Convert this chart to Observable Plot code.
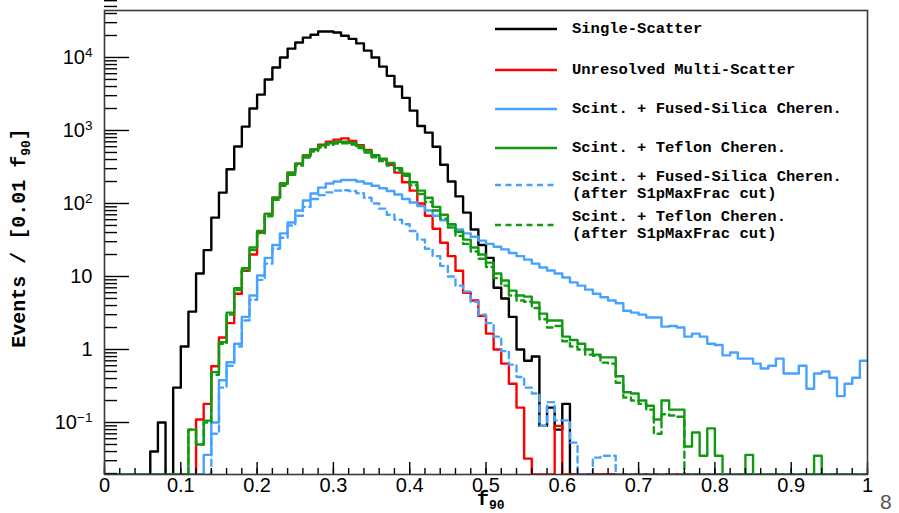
<!DOCTYPE html>
<html><head><meta charset="utf-8">
<script src="https://cdn.jsdelivr.net/npm/d3@7"></script>
<script src="https://cdn.jsdelivr.net/npm/@observablehq/plot@0.6"></script>
<style>body{margin:0;background:#fff}#chart{position:relative;width:899px;height:513px;overflow:hidden}</style>
</head><body><div id="chart"></div>
<script>
// histogram bins: 100 bins of width 0.01 on f90 in [0,1]
const binWidth = 0.01;

const singleScatter = [
  0,0,0,0,0,0,0.04,0.1,0,0.3,
  1.1,3.3,11,23,64,141,294,603,1130,2000,
  3100,5000,7300,10000,13200,16000,18700,20500,22700,22700,
  22000,19800,18000,15600,12400,10000,7500,5600,4000,2800,
  1870,1150,935,600,340,200,125,75,44,27,
  18,7,5,2.8,1.0,0.7,0.8,0.09,0.16,0.08,
  0.18,0,0,0,0,0,0,0,0,0,
  0,0,0,0,0,0,0,0,0,0,
  0,0,0,0,0,0,0,0,0,0,
  0,0,0,0,0,0,0,0,0,0
];
const multiScatter = [
  0,0,0,0,0,0,0,0,0,0,
  0,0,0.11,0.18,0.59,1.46,2.3,5.8,12,20,
  40,72,120,188,265,350,455,550,640,700,
  750,780,720,630,540,460,400,340,265,195,
  150,100,68,45,29,19,12,6,4.7,2.9,
  1.65,1.0,0.64,0.34,0.16,0.032,0,0,0,0.09,
  0,0,0,0,0,0,0,0,0,0,
  0,0,0,0,0,0,0,0,0,0,
  0,0,0,0,0,0,0,0,0,0,
  0,0,0,0,0,0,0,0,0,0
];
const fusedSilica = [
  0,0,0,0,0,0,0,0,0,0,
  0,0,0,0.036,0.10,0.38,0.67,1.2,2.8,5.5,
  10.3,18,27,39,55,80,110,137,165,188,
  200,210,210,200,188,175,162,148,133,115,
  103,92,80,68,59,51,44,39,35,31,
  28,25.5,23.5,21,19,17,15,13.3,12.1,11,
  9.7,8.3,7.5,6.6,5.8,5.2,4.7,4.3,3.4,3.2,
  3.0,2.75,2.75,2.06,2.1,2.0,1.5,1.65,1.5,1.2,
  1.15,0.83,0.91,0.75,0.75,0.64,0.55,0.6,0.75,0.47,
  0.47,0.6,0.29,0.47,0.5,0.41,0.23,0.34,0.41,0.7
];
const teflon = [
  0,0,0,0,0,0,0,0,0,0,
  0,0.08,0.05,0.106,0.49,1.26,3.2,6.9,13,25,
  42,72,120,188,265,350,455,550,620,670,
  700,700,680,610,530,460,410,360,305,255,
  195,150,120,90,70,52,41,32,25,20,
  15.5,11,8.8,6.4,5.5,5.3,4.4,3.1,2.5,2.5,
  1.5,1.35,1.2,1.0,0.85,0.78,0.78,0.43,0.26,0.25,
  0.2,0.17,0.11,0.2,0.15,0.15,0.047,0.073,0.035,0.083,
  0.035,0,0,0,0.036,0,0,0,0,0,
  0,0,0,0.035,0,0,0,0,0,0
];
const fusedSilicaCut = [
  0,0,0,0,0,0,0,0,0,0,
  0,0,0,0,0.07,0.3,0.6,1.1,2.5,4.8,
  9,15,24,34,50,68,90,115,130,142,
  150,152,148,138,120,100,85,70,60,52,
  42,32,24,19,14,10,7.5,6.2,4.5,3.0,
  2.3,1.5,0.95,0.62,0.42,0.3,0.25,0.09,0.19,0.107,
  0.107,0.053,0,0,0.033,0.035,0.035,0,0,0,
  0,0,0,0,0,0,0,0,0,0,
  0,0,0,0,0,0,0,0,0,0,
  0,0,0,0,0,0,0,0,0,0
];
const teflonCut = [
  0,0,0,0,0,0,0,0,0,0,
  0,0.08,0.05,0.1,0.45,1.2,3.0,6.5,12,23,
  39,67,112,175,248,330,425,515,585,635,
  660,665,640,575,500,430,380,330,285,240,
  178,135,105,80,62,47,36,28,22,17.5,
  13.5,9.5,7.5,5.5,4.7,4.5,3.7,2.6,2.0,2.1,
  1.3,1.1,1.0,0.85,0.82,0.66,0.64,0.35,0.22,0.2,
  0.18,0.15,0.07,0.13,0.125,0.12,0,0,0,0,
  0,0,0,0,0,0,0,0,0,0,
  0,0,0,0,0,0,0,0,0,0
];

const seriesNames = [
  ["Single-Scatter"],
  ["Unresolved Multi-Scatter"],
  ["Scint. + Fused-Silica Cheren."],
  ["Scint. + Teflon Cheren."],
  ["Scint. + Fused-Silica Cheren.", "(after S1pMaxFrac cut)"],
  ["Scint. + Teflon Cheren.", "(after S1pMaxFrac cut)"]
];
const seriesValues = [singleScatter, multiScatter, fusedSilica, teflon, fusedSilicaCut, teflonCut];
const seriesColors = ["#000000", "#ff0000", "#47a2ff", "#119a11", "#47a2ff", "#119a11"];
const seriesDashed = [false, false, false, false, true, true];

const xMajor = [0,0.1,0.2,0.3,0.4,0.5,0.6,0.7,0.8,0.9,1];
const xTickLabels = ["0","0.1","0.2","0.3","0.4","0.5","0.6","0.7","0.8","0.9","1"];
const xMinor = d3.range(0, 51).map(i => i / 50);
const yMajor = [0.1, 1, 10, 100, 1000, 10000];
const yTickLabels = ["10^-1", "1", "10", "10^2", "10^3", "10^4"];
const yMinor = [];
for (let e = -2; e <= 4; e++) for (let m = 2; m <= 9; m++) yMinor.push(m * Math.pow(10, e));
const yDomain = [0.0194, 44000];

function steps(values) {
  const pts = values.map((v, i) => ({x: i * binWidth, y: v > 0 ? v : yDomain[0]}));
  pts.push({x: values.length * binWidth, y: pts[pts.length - 1].y});
  return pts;
}

const lineMarks = seriesValues.map((vals, k) => Plot.line(steps(vals), {
  x: "x", y: "y", curve: "step-after",
  stroke: seriesColors[k], strokeWidth: 2.4,
  strokeDasharray: seriesDashed[k] ? "6,4.5" : null,
  clip: true
}));

const svg = Plot.plot({
  width: 899, height: 513,
  marginLeft: 104, marginRight: 32, marginTop: 10, marginBottom: 39,
  style: {fontFamily: "'Liberation Sans', Arial, sans-serif", fontSize: "20px", background: "#fff", color: "#000"},
  x: {domain: [0, 1]},
  y: {type: "log", domain: yDomain},
  marks: [
    ...lineMarks,
    Plot.axisX({ticks: xMinor, tickSize: -6, tickFormat: () => "", strokeWidth: 1.4, label: null}),
    Plot.axisX({ticks: xMajor, tickSize: -12, tickPadding: 15, strokeWidth: 1.4,
      tickFormat: d => xTickLabels[xMajor.indexOf(d)], label: null}),
    Plot.axisY({ticks: yMinor, tickSize: -13, tickFormat: () => "", strokeWidth: 1.4, label: null}),
    Plot.axisY({ticks: yMajor, tickSize: -25, tickPadding: 37, strokeWidth: 1.4,
      tickFormat: d => yTickLabels[yMajor.indexOf(d)], label: null}),
    Plot.frame({stroke: "#3a3a3a", strokeWidth: 1.6})
  ]
});

const s = d3.select(svg);
// superscripts on y tick labels
s.selectAll("text").each(function() {
  const t = this.textContent;
  if (t.includes("^")) {
    const [base, exp] = t.split("^");
    this.textContent = base;
    d3.select(this).append("tspan").attr("dy", "-0.5em").attr("font-size", "0.68em").text(exp.replace("-", "\u2212"));
  }
});

const mono = "'Liberation Mono', 'DejaVu Sans Mono', monospace";
// legend
const rowY = [29, 70, 109, 148, 185, 225];
const leg = s.append("g").attr("font-family", mono).attr("font-weight", "bold").attr("font-size", 15.5)
  .attr("text-anchor", "start");
seriesNames.forEach((lines, k) => {
  const y = rowY[k];
  leg.append("line").attr("x1", 495).attr("x2", 557).attr("y1", y).attr("y2", y)
    .attr("stroke", seriesColors[k]).attr("stroke-width", 2.4)
    .attr("stroke-dasharray", seriesDashed[k] ? "6,4.5" : null);
  lines.forEach((ln, j) => {
    const ty = lines.length === 1 ? y : y - 8.5 + j * 17;
    leg.append("text").attr("x", 572).attr("y", ty).attr("dominant-baseline", "middle")
      .attr("text-anchor", "start").attr("fill", "#000").text(ln);
  });
});

// axis titles
const yt = s.append("text").attr("font-family", mono).attr("font-weight", "bold").attr("font-size", 20)
  .attr("text-anchor", "middle").attr("transform", "translate(25,238) rotate(-90)");
yt.append("tspan").text("Events / [0.01 f");
yt.append("tspan").attr("font-size", 13).attr("dy", 5).text("90");
yt.append("tspan").attr("dy", -5).text("]");

const xt = s.append("text").attr("font-family", mono).attr("font-weight", "bold").attr("font-size", 20)
  .attr("text-anchor", "start").attr("x", 477).attr("y", 505);
xt.append("tspan").text("f");
xt.append("tspan").attr("font-size", 13).attr("dy", 4).text("90");

s.append("text").attr("x", 880).attr("y", 509).attr("font-size", 21).attr("fill", "#555")
  .attr("text-anchor", "start").attr("font-family", "'Liberation Sans', Arial, sans-serif").text("8");

document.getElementById("chart").appendChild(svg);
</script>
</body></html>
